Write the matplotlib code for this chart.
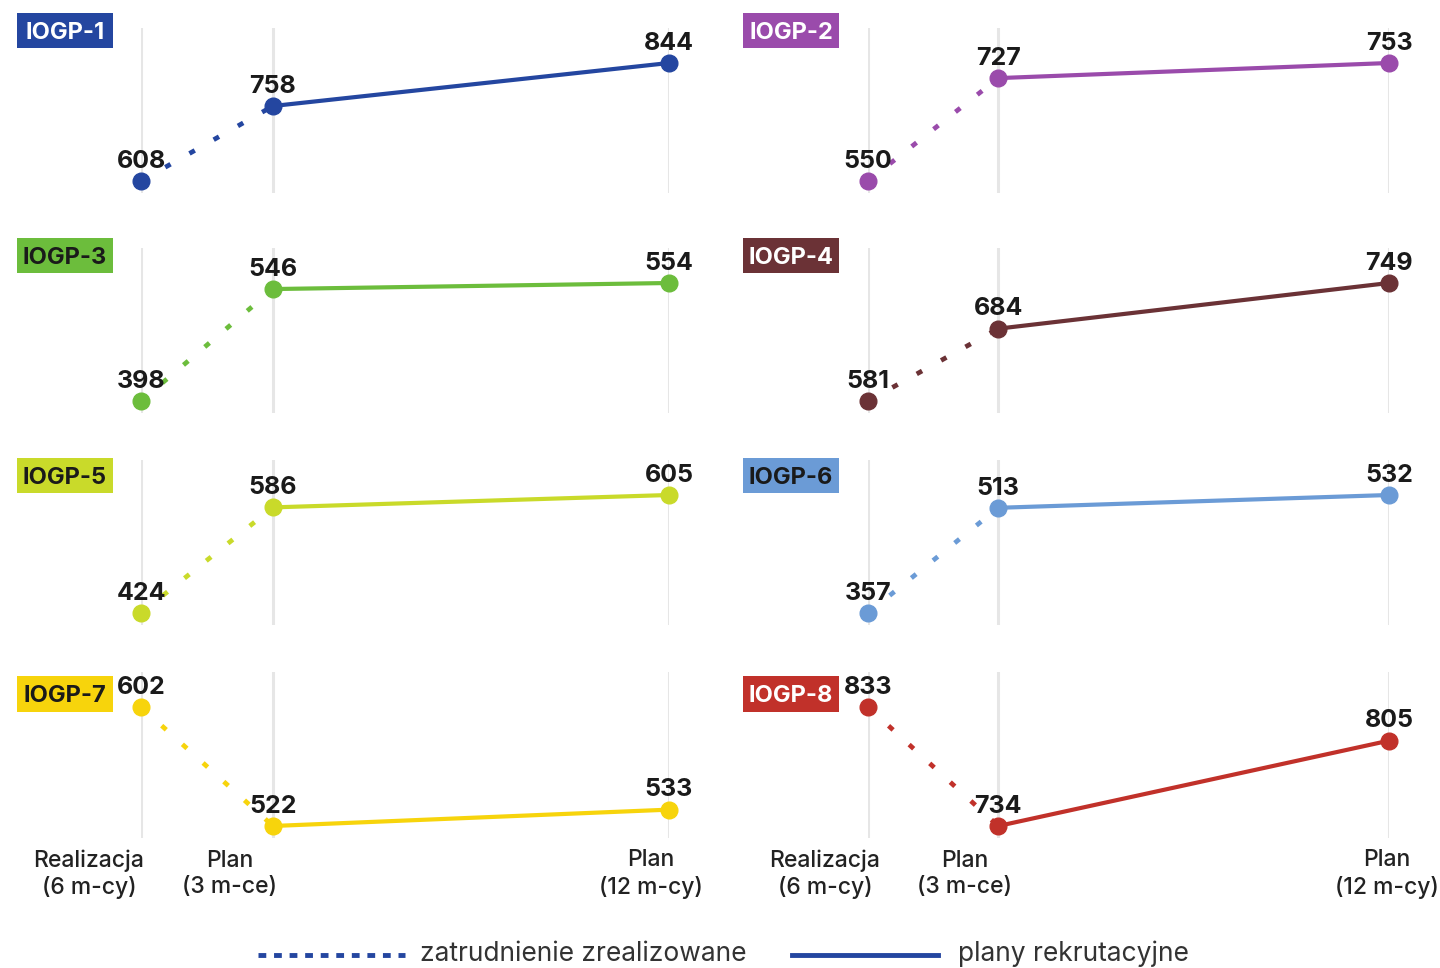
import matplotlib
matplotlib.use("Agg")
import matplotlib.pyplot as plt
from matplotlib.lines import Line2D
from matplotlib.patches import Rectangle

plt.rcParams['font.family'] = ['Inter', 'DejaVu Sans']

# ---- data ----
panels = ["IOGP-1", "IOGP-2", "IOGP-3", "IOGP-4", "IOGP-5", "IOGP-6", "IOGP-7", "IOGP-8"]
realizacja_6m = [608, 550, 398, 581, 424, 357, 602, 833]
plan_3m = [758, 727, 546, 684, 586, 513, 522, 734]
plan_12m = [844, 753, 554, 749, 605, 532, 533, 805]
colors = ["#2446a0", "#9a4bab", "#6cbd3c", "#6b3236", "#c9da2a", "#6b9bd6", "#f7d40c", "#c1312a"]
title_text_colors = ["white", "white", "#1a1a1a", "white", "#1a1a1a", "#1a1a1a", "#1a1a1a", "white"]
x_positions = [0, 1, 4]
tick_labels = ["Realizacja\n(6 m-cy)", "Plan\n(3 m-ce)", "Plan\n(12 m-cy)"]
legend_labels = ["zatrudnienie zrealizowane", "plany rekrutacyjne"]

W, H = 1440, 968
fig = plt.figure(figsize=(W / 100, H / 100), dpi=100)

def fx(x):
    return x / W

def fy(y):
    return 1 - y / H

# layout in pixels
col_x = [(141, 669), (868, 1389)]
row_y = [(28, 193), (248, 413), (460, 625), (672, 838)]
box_x = [(17, 113), (743, 839)]
box_y = [(13, 48), (238, 273), (458, 493), (676, 712)]
bottom_margin, top_margin = 12, 35
tick_x = [(89, 230, 651), (825, 965, 1387)]

dot_style = (0, (1.3, 4.6))

for i, name in enumerate(panels):
    r, c = divmod(i, 2)
    x0, x1 = col_x[c]
    yt, yb = row_y[r]
    ax = fig.add_axes([fx(x0), fy(yb), (x1 - x0) / W, (yb - yt) / H])
    vals = [realizacja_6m[i], plan_3m[i], plan_12m[i]]
    vmin, vmax = min(vals), max(vals)
    span_px = (yb - yt) - bottom_margin - top_margin
    per_px = (vmax - vmin) / span_px
    ax.set_ylim(vmin - bottom_margin * per_px, vmax + top_margin * per_px)
    ax.set_xlim(0, 4)
    ax.axis("off")
    for xp in x_positions:
        ax.axvline(xp, color="#e6e6e6", lw=2.2, zorder=0)
    col = colors[i]
    ax.plot(x_positions[:2], vals[:2], color=col, lw=3.4, linestyle=dot_style,
            dash_capstyle="butt", zorder=2, clip_on=False)
    ax.plot(x_positions[1:], vals[1:], color=col, lw=3.0, zorder=2, clip_on=False)
    ax.plot(x_positions, vals, "o", color=col, ms=12, zorder=3, clip_on=False)
    for xp, v in zip(x_positions, vals):
        ax.annotate(f"{v}", (xp, v), xytext=(0, 9.5), textcoords="offset points",
                    ha="center", va="baseline", fontsize=18, fontweight="bold",
                    color="#1a1a1a", zorder=4, annotation_clip=False)
    # title box
    bx0, bx1 = box_x[c]
    by0, by1 = box_y[r]
    fig.add_artist(Rectangle((fx(bx0), fy(by1)), (bx1 - bx0) / W, (by1 - by0) / H,
                             transform=fig.transFigure, facecolor=col, edgecolor="none"))
    fig.text(fx((bx0 + bx1) / 2), fy((by0 + by1) / 2), name, ha="center", va="center_baseline",
             fontsize=17, fontweight="bold", color=title_text_colors[i])

# x tick labels
for c in range(2):
    for tx, lab in zip(tick_x[c], tick_labels):
        fig.text(fx(tx), fy(874), lab, ha="center", va="center", fontsize=16.5,
                 color="#222222", linespacing=1.25, fontweight="medium")

# legend
leg_color = colors[0]
fig.add_artist(Line2D([fx(258), fx(405)], [fy(955), fy(955)], transform=fig.transFigure,
                      color=leg_color, lw=3.5, linestyle=(0, (1.6, 1.6)), dash_capstyle="butt"))
fig.text(fx(420), fy(954), legend_labels[0], ha="left", va="center", fontsize=19, color="#333333")
fig.add_artist(Line2D([fx(792), fx(938)], [fy(955), fy(955)], transform=fig.transFigure,
                      color=leg_color, lw=3.5))
fig.text(fx(958), fy(954), legend_labels[1], ha="left", va="center", fontsize=19, color="#333333")

fig.savefig("out.png", dpi=100, facecolor="white")
